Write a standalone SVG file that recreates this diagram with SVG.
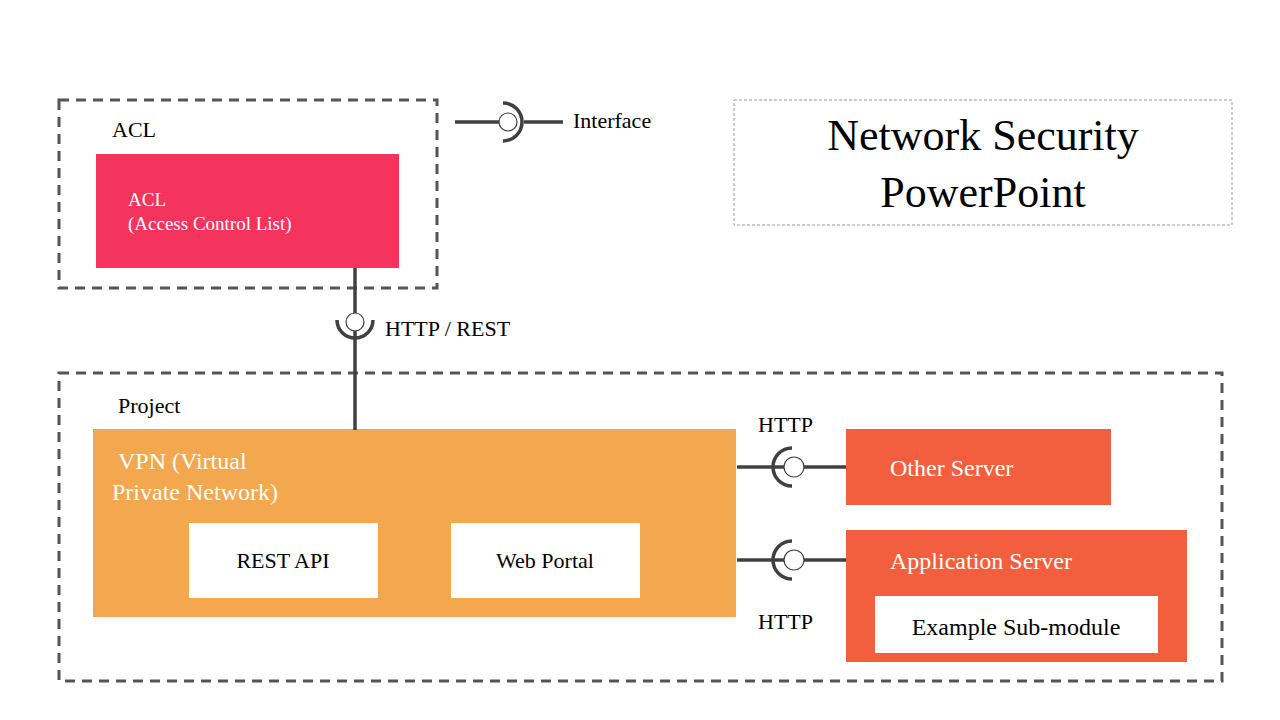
<svg xmlns="http://www.w3.org/2000/svg" width="1280" height="720" viewBox="0 0 1280 720">
<style>
.t{font-family:"Liberation Serif",serif;}
.dash{fill:none;stroke:#555;stroke-width:3;stroke-dasharray:10 7}
.ln{fill:none;stroke:#404040;stroke-width:3.5}
.ci{fill:#fff;stroke:#404040;stroke-width:1.2}
</style>
<rect width="1280" height="720" fill="#fff"/>
<g id="title"><rect x="734" y="100" width="498" height="125" fill="none" stroke="#999" stroke-dasharray="3 2"/>
<text class="t" x="983" y="150" font-size="44" text-anchor="middle">Network Security</text>
<text class="t" x="983" y="207" font-size="44" text-anchor="middle">PowerPoint</text></g>
<g id="aclGroup"><rect class="dash" x="59" y="100" width="378" height="188"/>
<text class="t" x="112" y="137" font-size="22">ACL</text></g>
<g id="acl"><rect x="96" y="154" width="303" height="114" fill="#f4345c"/>
<text class="t" x="128" y="206" font-size="19" fill="#fff">ACL</text>
<text class="t" x="128" y="230" font-size="19" fill="#fff">(Access Control  List)</text></g>
<g id="project"><rect class="dash" x="59" y="373" width="1163" height="308"/>
<text class="t" x="118" y="413" font-size="22">Project</text></g>
<g id="vpn"><rect x="93" y="429" width="643" height="188" fill="#f3a84f"/>
<text class="t" x="118" y="469" font-size="24" fill="#fff">VPN (Virtual</text>
<text class="t" x="112" y="500" font-size="24" fill="#fff">Private Network)</text></g>
<g id="rest"><rect x="189" y="523" width="189" height="75" fill="#fff"/>
<text class="t" x="283" y="568" font-size="22" text-anchor="middle">REST API</text></g>
<g id="web"><rect x="451" y="523" width="189" height="75" fill="#fff"/>
<text class="t" x="545" y="568" font-size="22" text-anchor="middle">Web Portal</text></g>
<g id="other"><rect x="846" y="429" width="265" height="76" fill="#f35f3e"/>
<text class="t" x="890" y="476" font-size="24" fill="#fff">Other Server</text></g>
<g id="app"><rect x="846" y="530" width="341" height="132" fill="#f35f3e"/>
<text class="t" x="890" y="569" font-size="24" fill="#fff">Application Server</text>
<rect x="875" y="596" width="283" height="57" fill="#fff"/>
<text class="t" x="1016" y="635" font-size="24" text-anchor="middle">Example Sub-module</text></g>
<g id="connectors">
<line class="ln" x1="455" y1="122" x2="500" y2="122"/><line class="ln" x1="524" y1="122" x2="563" y2="122"/>
<path class="ln" d="M503 103 A19 19 0 0 1 503 141"/><circle class="ci" cx="508" cy="122" r="9"/>
<text class="t" x="573" y="128" font-size="22">Interface</text>
<line class="ln" x1="355" y1="268" x2="355" y2="313"/><line class="ln" x1="355" y1="330" x2="355" y2="430"/>
<path class="ln" d="M337 320 A18 18 0 0 0 373 320"/><circle class="ci" cx="355" cy="322" r="9"/>
<text class="t" x="385" y="336" font-size="22">HTTP / REST</text>
<line class="ln" x1="737" y1="467" x2="784" y2="467"/><line class="ln" x1="803" y1="467" x2="846" y2="467"/>
<path class="ln" d="M792 448 A19 19 0 0 0 792 486"/><circle class="ci" cx="794" cy="467" r="10"/>
<text class="t" x="758" y="432" font-size="22">HTTP</text>
<line class="ln" x1="737" y1="560" x2="784" y2="560"/><line class="ln" x1="803" y1="560" x2="846" y2="560"/>
<path class="ln" d="M792 541 A19 19 0 0 0 792 579"/><circle class="ci" cx="794" cy="560" r="10"/>
<text class="t" x="758" y="629" font-size="22">HTTP</text>
</g>
</svg>
